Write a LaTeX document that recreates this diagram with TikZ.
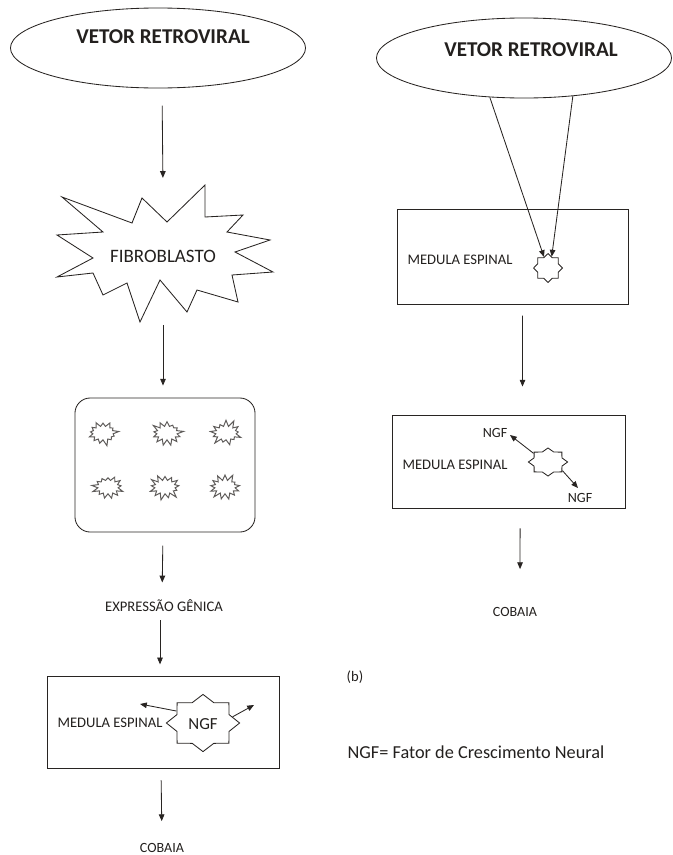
\documentclass[tikz,border=0pt]{standalone}
\usepackage{fontspec}
\setmainfont{Carlito}
\usepackage{xcolor}
\usepackage{tikz}
\usetikzlibrary{arrows.meta,shapes.geometric,shapes.symbols}

\definecolor{linha}{RGB}{40,36,34}
\definecolor{texto}{RGB}{35,32,30}

\begin{document}
\begin{tikzpicture}[
  x=0.025cm, y=-0.025cm,
  vetor/.style={draw=linha,ellipse,line width=0.6pt,minimum width=7.375cm,minimum height=2cm,inner sep=0pt},
  titulo/.style={font=\fontsize{15}{17}\selectfont\bfseries,text=texto,inner sep=0pt},
  rotulo/.style={font=\fontsize{10.4}{12}\selectfont,text=texto,inner sep=0pt},
  caixa/.style={draw=linha,line width=0.6pt,inner sep=0pt},
  estrela/.style={draw=linha,line width=0.6pt,star,star points=8,star point ratio=1.3,inner sep=0pt},
  explosao/.style={draw=linha!75,line width=0.7pt,starburst,starburst points=13,starburst point height=0.17cm,
    minimum width=0.85cm,minimum height=0.68cm,inner sep=0pt},
  seta/.style={-{Triangle[length=1.7mm,width=1.4mm]},draw=linha,line width=0.6pt}
]
\useasboundingbox (0,0) rectangle (672,855);

% (a) coluna da esquerda
\node[vetor] (vetA) at (158,48) {};
\node[titulo] (titA) at (163,37) {VETOR RETROVIRAL};

\draw[draw=linha,line width=0.6pt,line join=miter] (62,197) -- (132,223) -- (142,198) -- (167,222) -- (205,185)
  -- (205,217) -- (243,215) -- (227,232) -- (270,240) -- (235,252) -- (273,272) -- (232,275)
  -- (238,302) -- (197,290) -- (187,312) -- (160,280) -- (140,322) -- (127,283) -- (103,295)
  -- (93,273) -- (57,277) -- (93,258) -- (57,235) -- (103,232) -- cycle;
\node[rotulo,font=\fontsize{13.5}{15}\selectfont,minimum width=5.4cm,minimum height=3.43cm] (fib) at (163,256) {FIBROBLASTO};

\node[caixa,rounded corners=0.38cm,minimum width=4.5cm,minimum height=3.35cm] (cult) at (165,465) {};
\foreach \px/\py/\n [count=\i] in {103/433/111,167/433/222,226/433/333,108/487/444,165/487/555,225/487/666}
  \node[explosao,random starburst=\n] (cel\i) at (\px,\py) {};

\node[rotulo] (expr) at (164,606) {EXPRESSÃO GÊNICA};

\node[caixa,minimum width=5.8cm,minimum height=2.3cm] (medA) at (163,722) {};
\node[rotulo] (medAtxt) at (110,723) {MEDULA ESPINAL};
\begin{scope}[shift={(203,723)},xscale=1.28]
  \node[estrela,transform shape,minimum size=1.43cm] (ngfA) at (0,0) {};
\end{scope}
\node[rotulo,font=\fontsize{12}{14}\selectfont] (ngfAtxt) at (203,724) {NGF};
\coordinate (fimA1) at (140,704);
\coordinate (fimA2) at (254,705);

\node[rotulo,font=\fontsize{10}{12}\selectfont] (coA) at (162,848) {COBAIA};

\draw[seta,shorten <=0.43cm,shorten >=0.23cm] ([xshift=0.1cm]vetA.south) -- (fib.north);
\draw[seta,shorten >=0.3cm] (fib.south) -- (fib.south |- cult.north);
\draw[seta,shorten <=0.33cm,shorten >=0.43cm] ([xshift=-0.05cm]cult.south) -- ([xshift=-0.05cm]expr.north);
\draw[seta,shorten <=0.2cm,shorten >=0.28cm] ([xshift=-0.1cm]expr.south) -- ([xshift=-0.1cm]expr.south |- medA.north);
\draw[seta,shorten <=0.3cm,shorten >=0.55cm] ([xshift=-0.05cm]medA.south) -- (coA.north);
\draw[seta] (ngfA.150) -- (fimA1);
\draw[seta] (ngfA.15) -- (fimA2);

% (b) coluna da direita
\node[vetor] (vetB) at (524,58) {};
\node[titulo] (titB) at (531,50) {VETOR RETROVIRAL};

\node[caixa,minimum width=5.775cm,minimum height=2.375cm] (medB1) at (512.5,256.5) {};
\node[rotulo] (medB1txt) at (460,260) {MEDULA ESPINAL};
\node[estrela,minimum size=0.72cm] (starB1) at (548,268) {};

\draw[seta] (vetB.229) -- (starB1.110);
\draw[seta] (vetB.322) -- (starB1.72);

\node[caixa,minimum width=5.825cm,minimum height=2.325cm] (medB2) at (508.5,461.5) {};
\node[rotulo] (medB2txt) at (455,465) {MEDULA ESPINAL};
\begin{scope}[shift={(548,462)},xscale=1.4]
  \node[estrela,transform shape,minimum size=0.7cm] (starB2) at (0,0) {};
\end{scope}
\node[rotulo,font=\fontsize{10}{12}\selectfont] (ngfB1) at (495,433) {NGF};
\node[rotulo,font=\fontsize{10}{12}\selectfont] (ngfB2) at (580,498) {NGF};
\coordinate (fimB1) at (510,435);
\coordinate (fimB2) at (578,488);
\draw[seta] (starB2.140) -- (fimB1);
\draw[seta] (starB2.-40) -- (fimB2);

\node[rotulo,font=\fontsize{10}{12}\selectfont] (coB) at (515,612) {COBAIA};

\draw[seta,shorten <=0.28cm,shorten >=0.7cm] ([xshift=0.25cm]medB1.south) -- ([xshift=0.35cm]medB2.north);
\draw[seta,shorten <=0.5cm,shorten >=0.95cm] ([xshift=0.29cm]medB2.south) -- ([xshift=0.125cm]coB.north);

\node[rotulo] (letraB) at (355,677) {(b)};
\node[rotulo,font=\fontsize{13}{15}\selectfont] (legenda) at (476,752) {NGF= Fator de Crescimento Neural};
\end{tikzpicture}
\end{document}
